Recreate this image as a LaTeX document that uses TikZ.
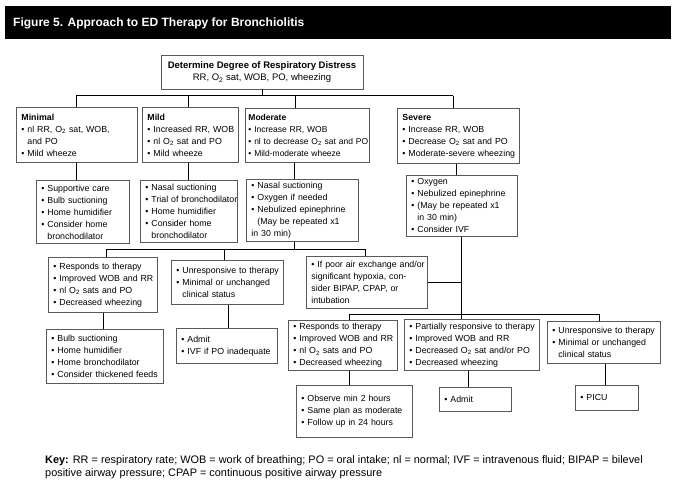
\documentclass[tikz,border=0pt]{standalone}
\usepackage{fontspec}
\setmainfont{Liberation Sans}
\newcommand\Bl[1]{\mbox{\textbullet\ #1}}
\newcommand\Cl[1]{\mbox{\hphantom{\textbullet\ }#1}}
\newcommand\Ox{O\textsubscript{2}}
\tikzset{
  box/.style={draw=black!65, line width=0.9pt, align=left, anchor=north west,
    inner xsep=5pt, inner ysep=3pt, font=\fontsize{8.8}{12}\selectfont},
  conn/.style={line width=1pt, draw=black},
}
\begin{document}
\begin{tikzpicture}[x=1pt,y=-1pt]
\useasboundingbox (0,0) rectangle (676,494);
\fill[white] (0,0) rectangle (676,494);
% title bar
\fill[black] (5,6) rectangle (671,39);
\node[anchor=base west, inner sep=0, text=white, font=\bfseries\fontsize{12}{14}\selectfont] (title) at (13,26.5) {Figure 5. Approach to ED Therapy for Bronchiolitis};

% top box
\node[box, anchor=center, align=center, inner xsep=0pt, minimum width=202pt, minimum height=34pt, font=\fontsize{9.5}{12.4}\selectfont] (top) at (262,72)
 {\textbf{Determine Degree of Respiratory Distress}\\RR, \Ox\ sat, WOB, PO, wheezing};

% level boxes
\node[box, text width=111pt, minimum height=55pt] (min) at (16,107)
 {\textbf{Minimal}\\\Bl{nl RR, \Ox\ sat, WOB,}\\\Cl{and PO}\\\Bl{Mild wheeze}};
\node[box, text width=86pt, minimum height=55pt] (mild) at (142,107)
 {\textbf{Mild}\\\Bl{Increased RR, WOB}\\\Bl{nl \Ox\ sat and PO}\\\Bl{Mild wheeze}};
\node[box, inner xsep=3pt, text width=118pt, minimum height=54pt, font=\fontsize{8.5}{12}\selectfont] (mod) at (245,108)
 {\textbf{Moderate}\\\Bl{Increase RR, WOB}\\\Bl{nl to decrease \Ox\ sat and PO}\\\Bl{Mild-moderate wheeze}};
\node[box, text width=112pt, minimum height=55pt] (sev) at (397,108)
 {\textbf{Severe}\\\Bl{Increase RR, WOB}\\\Bl{Decrease \Ox\ sat and PO}\\\Bl{Moderate-severe wheezing}};

% treatment boxes
\node[box, text width=83pt, minimum height=63pt] (mint) at (36,180)
 {\Bl{Supportive care}\\\Bl{Bulb suctioning}\\\Bl{Home humidifier}\\\Bl{Consider home}\\\Cl{bronchodilator}};
\node[box, text width=87pt, minimum height=62pt] (mildt) at (140,180)
 {\Bl{Nasal suctioning}\\\Bl{Trial of bronchodilator}\\\Bl{Home humidifier}\\\Bl{Consider home}\\\Cl{bronchodilator}};
\node[box, text width=102pt, minimum height=62pt] (modt) at (246,179)
 {\Bl{Nasal suctioning}\\\Bl{Oxygen if needed}\\\Bl{Nebulized epinephrine}\\\Cl{(May be repeated x1}\\\mbox{in 30 min)}};
\node[box, text width=101pt, minimum height=61pt] (sevt) at (406,175)
 {\Bl{Oxygen}\\\Bl{Nebulized epinephrine}\\\Bl{(May be repeated x1}\\\Cl{in 30 min)}\\\Bl{Consider IVF}};

% moderate outcomes
\node[box, text width=99pt, minimum height=55pt] (r1) at (48,257)
 {\Bl{Responds to therapy}\\\Bl{Improved WOB and RR}\\\Bl{nl \Ox\ sats and PO}\\\Bl{Decreased wheezing}};
\node[box, text width=102pt, minimum height=44pt] (u1) at (171,260)
 {\Bl{Unresponsive to therapy}\\\Bl{Minimal or unchanged}\\\Cl{clinical status}};
\node[box, text width=111pt, minimum height=52pt] (p1) at (306,256)
 {\Bl{If poor air exchange and/or}\\\mbox{significant hypoxia, con-}\\\mbox{sider BIPAP, CPAP, or}\\\mbox{intubation}};

% severe outcomes
\node[box, text width=99pt, minimum height=50pt] (r2) at (288,320)
 {\Bl{Responds to therapy}\\\Bl{Improved WOB and RR}\\\Bl{nl \Ox\ sats and PO}\\\Bl{Decreased wheezing}};
\node[box, text width=125pt, minimum height=51pt] (pr) at (404,319)
 {\Bl{Partially responsive to therapy}\\\Bl{Improved WOB and RR}\\\Bl{Decreased \Ox\ sat and/or PO}\\\Bl{Decreased wheezing}};
\node[box, text width=103pt, minimum height=42pt] (u2) at (547,321)
 {\Bl{Unresponsive to therapy}\\\Bl{Minimal or unchanged}\\\Cl{clinical status}};

% final boxes
\node[box, text width=107pt, minimum height=54pt] (b1) at (46,329)
 {\Bl{Bulb suctioning}\\\Bl{Home humidifier}\\\Bl{Home bronchodilator}\\\Bl{Consider thickened feeds}};
\node[box, text width=91pt, minimum height=35pt] (a1) at (176,328)
 {\Bl{Admit}\\\Bl{IVF if PO inadequate}};
\node[box, text width=106pt, minimum height=52pt] (o2) at (296,385)
 {\Bl{Observe min 2 hours}\\\Bl{Same plan as moderate}\\\Bl{Follow up in 24 hours}};
\node[box, text width=62pt, minimum height=24pt] (a2) at (439,387)
 {\Bl{Admit}};
\node[box, text width=53pt, minimum height=25pt] (picu) at (575,385)
 {\Bl{PICU}};

% key
\node[anchor=north west, inner sep=0, align=left, font=\fontsize{10.9}{13.5}\selectfont] (key) at (45,455)
 {\textbf{Key:} RR = respiratory rate; WOB = work of breathing; PO = oral intake; nl = normal; IVF = intravenous fluid; BIPAP = bilevel\\positive airway pressure; CPAP = continuous positive airway pressure};

% coordinates for connector lines
\coordinate (bL) at (76,96);
\coordinate (bMild) at (188,96);
\coordinate (bMod) at (295,96);
\coordinate (bR) at (453,96);
\coordinate (xMinT) at (76,0);
\coordinate (xMildT) at (188,0);
\coordinate (xModT) at (294,0);
\coordinate (xSevT) at (456,0);
\coordinate (xSev) at (461,0);
\coordinate (b2L) at (106,249);
\coordinate (b2M) at (224,249);
\coordinate (b2R) at (365,249);
\coordinate (xB1) at (103,0);
\coordinate (xA1) at (228,0);
\coordinate (b3L) at (349,314);
\coordinate (b3R) at (599,314);
\coordinate (xA2) at (468,0);
\coordinate (xPicu) at (605,0);

% connectors: top level
\draw[conn] (top.south) -- (top.south |- bL);
\draw[conn] (bL) -- (bR);
\draw[conn] (bL) -- (bL |- min.north);
\draw[conn] (bMild) -- (bMild |- mild.north);
\draw[conn] (bMod) -- (bMod |- mod.north);
\draw[conn] (bR) -- (bR |- sev.north);
% level to treatment
\draw[conn] (min.south -| xMinT) -- (mint.north -| xMinT);
\draw[conn] (mild.south -| xMildT) -- (mildt.north -| xMildT);
\draw[conn] (mod.south -| xModT) -- (modt.north -| xModT);
\draw[conn] (sev.south -| xSevT) -- (sevt.north -| xSevT);
% moderate branch
\draw[conn] (modt.south -| xModT) -- (xModT |- b2L);
\draw[conn] (b2L) -- (b2R);
\draw[conn] (b2L) -- (b2L |- r1.north);
\draw[conn] (b2M) -- (b2M |- u1.north);
\draw[conn] (b2R) -- (b2R |- p1.north);
\draw[conn] (r1.south -| xB1) -- (b1.north -| xB1);
\draw[conn] (u1.south -| xA1) -- (a1.north -| xA1);
% severe branch
\draw[conn] (sevt.south -| xSev) -- (pr.north -| xSev);
\draw[conn] (p1.east) -- (p1.east -| xSev);
\draw[conn] (b3L) -- (b3R);
\draw[conn] (b3L) -- (b3L |- r2.north);
\draw[conn] (b3R) -- (b3R |- u2.north);
\draw[conn] (r2.south -| b3L) -- (o2.north -| b3L);
\draw[conn] (pr.south -| xA2) -- (a2.north -| xA2);
\draw[conn] (u2.south -| xPicu) -- (picu.north -| xPicu);
\end{tikzpicture}
\end{document}
